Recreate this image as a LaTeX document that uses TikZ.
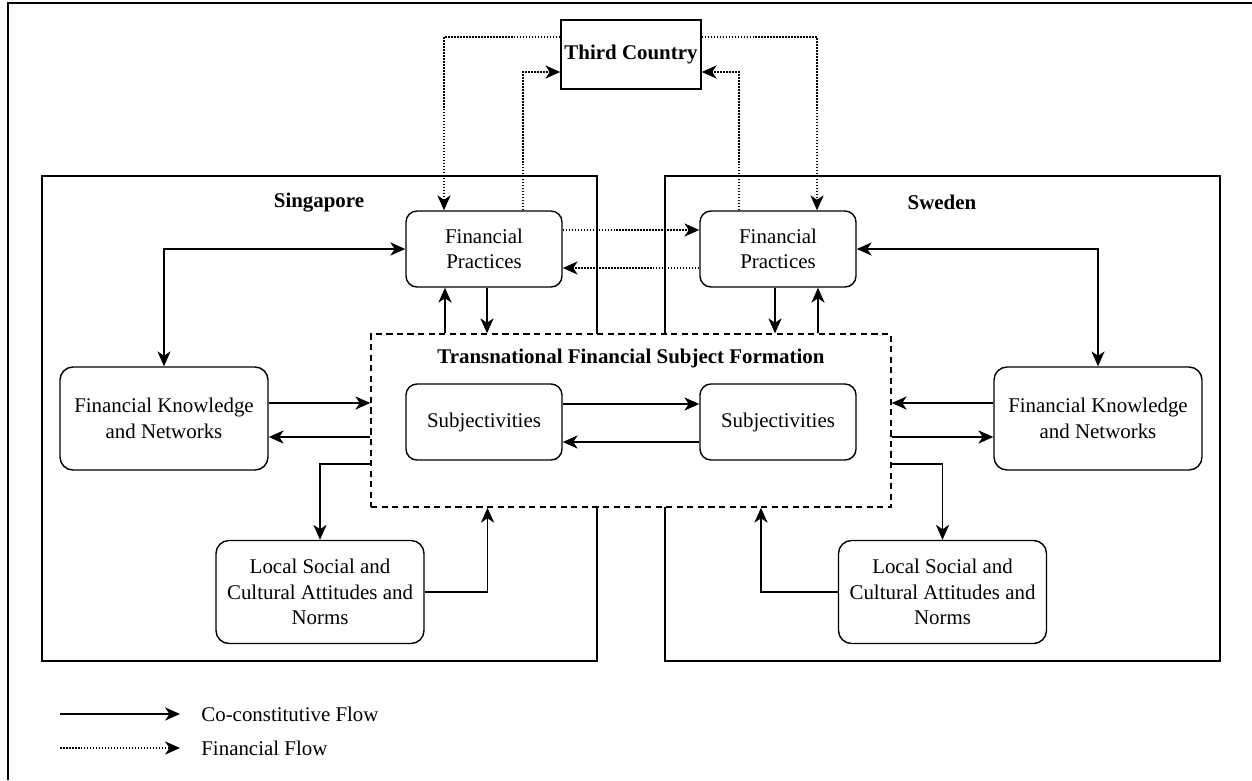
\documentclass[tikz,border=0pt]{standalone}
\usepackage{fontspec}
\setmainfont{Liberation Serif}
\usetikzlibrary{arrows.meta}

\tikzset{
	every node/.style={font=\fontsize{11.9}{14.5}\selectfont},
	heading/.style={font=\fontsize{11.9}{14.5}\selectfont\bfseries},
	region/.style={draw,line width=0.8pt,inner sep=0pt,minimum width=111mm,minimum height=97mm},
	pbox/.style={draw,line width=0.8pt,rounded corners=2.2mm,align=center,inner sep=0pt,minimum width=31.2mm,minimum height=15.2mm},
	bigbox/.style={pbox,rounded corners=2.6mm,minimum width=41.6mm,minimum height=20.6mm},
	flow/.style={->,line width=0.8pt},
	money/.style={->,line width=0.8pt,dash pattern=on 0.9pt off 0.8pt},
}

\begin{document}
\begin{tikzpicture}[x=0.2mm,y=-0.2mm,>={Stealth[length=8.5pt,width=7.5pt,inset=2.5pt]}]
			\useasboundingbox (0,0) rectangle (1252,780);
			\draw[line width=1.1pt] (8,780) -- (8,3) -- (1252,3);
			
			\node[region] (sgp) at (319.5,418.5) {};
			\node[region] (swe) at (942.5,418.5) {};
			\node[heading] (sgpname) at (319,203) {Singapore};
			\node[heading] (swename) at (942,202) {Sweden};
			
			\node[draw,line width=0.8pt,inner sep=0pt,minimum width=28mm,minimum height=13.8mm,heading] (third) at (631,54.5) {Third Country};
			
			\node[draw,line width=0.8pt,dash pattern=on 3.5pt off 2.5pt,fill=white,inner sep=0pt,minimum width=104mm,minimum height=34.6mm] (tfsf) at (631,420.5) {};
			\node[heading] (tfsfname) at (631,358) {Transnational Financial Subject Formation};
			
			\node[pbox] (fpSG) at (484,249) {Financial\\Practices};
			\node[pbox] (fpSE) at (778,249) {Financial\\Practices};
			\node[pbox] (subSG) at (484,422) {Subjectivities};
			\node[pbox] (subSE) at (778,422) {Subjectivities};
			\node[bigbox] (fknSG) at (164,418.5) {Financial Knowledge\\and Networks};
			\node[bigbox] (fknSE) at (1098,418.5) {Financial Knowledge\\and Networks};
			\node[bigbox] (lscSG) at (320,592) {Local Social and\\Cultural Attitudes and\\Norms};
			\node[bigbox] (lscSE) at (942.5,592) {Local Social and\\Cultural Attitudes and\\Norms};
			
			\draw[money] ([yshift=3.5mm]third.west) -| ([xshift=-8mm]fpSG.north);
			\draw[money] ([xshift=7.8mm]fpSG.north) |- ([yshift=-3.5mm]third.west);
			\draw[money] ([yshift=3.5mm]third.east) -| ([xshift=7.8mm]fpSE.north);
			\draw[money] ([xshift=-7.8mm]fpSE.north) |- ([yshift=-3.5mm]third.east);
			\draw[money] ([yshift=3.8mm]fpSG.east) -- ([yshift=3.8mm]fpSE.west);
			\draw[money] ([yshift=-3.8mm]fpSE.west) -- ([yshift=-3.8mm]fpSG.east);
			
			\draw[flow,<->] (fpSG.west) -| (fknSG.north);
			\draw[flow,<->] (fpSE.east) -| (fknSE.north);
			
			\draw[flow] ([xshift=-7.8mm]fpSG.south |- tfsf.north) -- ([xshift=-7.8mm]fpSG.south);
			\draw[flow] ([xshift=0.6mm]fpSG.south) -- ([xshift=0.6mm]fpSG.south |- tfsf.north);
			\draw[flow] ([xshift=-0.6mm]fpSE.south) -- ([xshift=-0.6mm]fpSE.south |- tfsf.north);
			\draw[flow] ([xshift=8mm]fpSE.south |- tfsf.north) -- ([xshift=8mm]fpSE.south);
			
			\draw[flow] ([yshift=3.6mm]subSG.east) -- ([yshift=3.6mm]subSG.east -| subSE.west);
			\draw[flow] ([yshift=-4mm]subSE.west) -- ([yshift=-4mm]subSE.west -| subSG.east);
			
			\draw[flow] ([yshift=3.1mm]fknSG.east) -- ([yshift=3.1mm]fknSG.east -| tfsf.west);
			\draw[flow] ([yshift=-3.7mm]fknSG.east -| tfsf.west) -- ([yshift=-3.7mm]fknSG.east);
			\draw[flow] ([yshift=3.1mm]fknSE.west) -- ([yshift=3.1mm]fknSE.west -| tfsf.east);
			\draw[flow] ([yshift=-3.7mm]fknSE.west -| tfsf.east) -- ([yshift=-3.7mm]fknSE.west);
			
			\draw[flow] ([yshift=-8.7mm]tfsf.west) -| (lscSG.north);
			\draw[flow] (lscSG.east) -| ([xshift=-28.7mm]tfsf.south);
			\draw[flow] ([yshift=-8.7mm]tfsf.east) -| (lscSE.north);
			\draw[flow] (lscSE.west) -| ([xshift=26mm]tfsf.south);
			
			\coordinate (leg1a) at (60,714);
			\coordinate (leg1b) at (180,714);
			\coordinate (leg2a) at (60,748);
			\coordinate (leg2b) at (180,748);
			\draw[flow] (leg1a) -- (leg1b);
			\draw[money] (leg2a) -- (leg2b);
			\node[anchor=west,inner sep=0pt] (leg1) at (201,714) {Co-constitutive Flow};
			\node[anchor=west,inner sep=0pt] (leg2) at (201,748) {Financial Flow};
		\end{tikzpicture}
\end{document}
